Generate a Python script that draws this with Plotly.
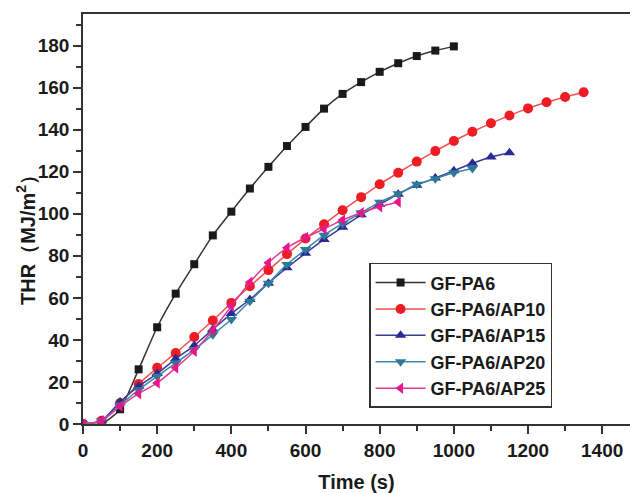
import plotly.graph_objects as go

step = 50
t_pa6 = list(range(0, 1001, step))
thr_pa6 = [0, 0, 7, 26, 46, 62, 76, 89.7, 101, 112, 122.3, 132.2, 141.3, 150, 157, 162.6, 167.5, 171.6, 175, 177.6, 179.6]

t_ap10 = list(range(0, 1351, step))
thr_ap10 = [0, 1.5, 10, 19, 26.7, 33.8, 41.4, 49.2, 57.6, 65.5, 73.2, 80.8, 88.2, 95, 101.7, 107.9, 114, 119.5,
            124.8, 129.8, 134.6, 139, 143, 146.7, 150.1, 153, 155.5, 157.8]

t_ap15 = list(range(0, 1151, step))
thr_ap15 = [0, 1.5, 10.5, 18, 24, 31, 37.3, 45, 52.5, 59.2, 67, 74.3, 81.2, 87.8, 93.6, 99.5, 104.4, 109.3,
            113.6, 117, 120.5, 124, 127, 129]

t_ap20 = list(range(0, 1051, step))
thr_ap20 = [0, 1.5, 9, 16.3, 22.7, 29, 35.4, 42.5, 49.7, 58.4, 67, 75.9, 83, 89.8, 95.4, 100.5, 105.5, 109.5,
            114, 116.7, 119.5, 121.5]

t_ap25 = list(range(0, 851, step))
thr_ap25 = [0, 1.5, 8.4, 14.4, 19.5, 26.7, 34.6, 44.6, 56, 67.4, 76.7, 83.8, 88.7, 92.8, 97, 100.5, 103.3, 105.6]

names = ["GF-PA6", "GF-PA6/AP10", "GF-PA6/AP15", "GF-PA6/AP20", "GF-PA6/AP25"]
xs = [t_pa6, t_ap10, t_ap15, t_ap20, t_ap25]
ys = [thr_pa6, thr_ap10, thr_ap15, thr_ap20, thr_ap25]
line_colors = ["#333333", "#f05050", "#3a3a9a", "#3a8aa6", "#e03a9a"]
marker_colors = ["#1a1a1a", "#ee1c25", "#2a2a96", "#2c7a96", "#e6178a"]
symbols = ["square", "circle", "triangle-up", "triangle-down", "triangle-left"]
sizes = [8, 10, 10, 10, 10]

fig = go.Figure()
for n, x, y, lc, mc, s, sz in zip(names, xs, ys, line_colors, marker_colors, symbols, sizes):
    fig.add_trace(go.Scatter(
        x=x, y=y, name=n, mode="lines+markers",
        line=dict(color=lc, width=1.5, shape="spline", smoothing=0.6),
        marker=dict(symbol=s, size=sz, color=mc, line=dict(width=0)),
    ))

font_family = "Liberation Sans, Arial, sans-serif"
fig.update_layout(
    width=630, height=493,
    margin=dict(l=83, r=0, t=14, b=69, autoexpand=False),
    paper_bgcolor="white", plot_bgcolor="white",
    font=dict(family=font_family, size=19, color="#1a1a1a"),
    showlegend=True,
    legend=dict(
        x=0.523, y=0.393, xanchor="left", yanchor="top",
        bgcolor="white", bordercolor="#333333", borderwidth=1.5,
        font=dict(family=font_family, size=18, color="#1a1a1a", weight="bold"),
        tracegroupgap=0, itemwidth=50,
    ),
    xaxis=dict(
        range=[0, 1475], tickvals=[0, 200, 400, 600, 800, 1000, 1200, 1400],
        showgrid=False, zeroline=False,
        showline=True, linecolor="#333333", linewidth=1.5, mirror=True,
        ticks="outside", ticklen=8, tickwidth=1.5, tickcolor="#333333",
        minor=dict(dtick=100, tick0=0, ticks="outside", ticklen=5, tickwidth=1.5, tickcolor="#333333"),
        tickfont=dict(family=font_family, size=19, weight="bold"),
        title=dict(text="Time (s)", font=dict(family=font_family, size=20, weight="bold"), standoff=18),
        automargin=False,
    ),
    yaxis=dict(
        range=[0, 195], tickvals=[0, 20, 40, 60, 80, 100, 120, 140, 160, 180],
        showgrid=False, zeroline=False,
        showline=True, linecolor="#333333", linewidth=1.5, mirror=False,
        ticks="outside", ticklen=8, tickwidth=1.5, tickcolor="#333333",
        minor=dict(dtick=10, tick0=0, ticks="outside", ticklen=5, tickwidth=1.5, tickcolor="#333333"),
        tickfont=dict(family=font_family, size=19, weight="bold"),
        automargin=False,
    ),
)

fig.add_annotation(
    text="THR（MJ/m<sup>2</sup>）", textangle=-90,
    xref="paper", yref="paper", x=-0.105, y=0.46, xanchor="center", yanchor="middle",
    showarrow=False, font=dict(family=font_family, size=20, weight="bold", color="#1a1a1a"),
)

fig.write_html("out.html", config={"displayModeBar": False},
               post_script="document.body.style.margin='0';document.body.style.overflow='hidden';")
